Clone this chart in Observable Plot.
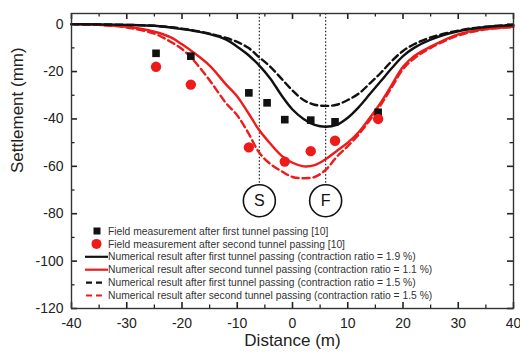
<!DOCTYPE html>
<html><head><meta charset="utf-8">
<script src="https://cdn.jsdelivr.net/npm/d3@7"></script>
<script src="https://cdn.jsdelivr.net/npm/@observablehq/plot@0.6"></script>
<style>body{margin:0;background:#fff} svg{display:block}</style>
</head><body><div id="chart"></div>
<script>
// Field measurements
const fieldFirstX = [-24.7, -18.4, -7.9, -4.6, -1.4, 3.3, 7.7, 15.5];
const fieldFirstY = [-12.3, -13.5, -29, -33.2, -40.3, -40.5, -41.2, -37.2];
const fieldSecondX = [-24.7, -18.4, -7.9, -1.4, 3.3, 7.7, 15.5];
const fieldSecondY = [-18, -25.5, -52, -58, -53.6, -49.2, -40];

// Numerical results
const curveX = [-40,-35,-30,-25,-22,-20,-18,-15,-12,-10,-8,-6,-4,-2,0,2,4,6,8,10,12,14,16,18,20,22,25,30,35,40];
const firstSolid  = [0,-0.1,-0.3,-0.7,-1.4,-2.1,-2.8,-4.2,-6.5,-9.5,-13,-17.5,-23,-30,-36,-40,-42.5,-43.3,-42.5,-39.5,-35,-29.5,-24,-18.5,-13.5,-10,-6.5,-3,-1.2,-0.4];
const secondSolid = [0,-0.3,-1.1,-3.2,-5.6,-8.5,-11.8,-17.5,-25.5,-30.5,-37.5,-44.8,-50.5,-55.5,-58.5,-60,-59.5,-57,-53.5,-50,-45.5,-39.5,-33,-25.5,-18,-13.5,-9.5,-4.3,-2,-1.1];
const firstDashed = [0,-0.1,-0.3,-0.7,-1.3,-1.9,-2.6,-4,-5.8,-7.5,-10,-14,-18,-23,-28,-32,-34,-34.5,-34,-32,-29.3,-25,-20.5,-15.5,-11.3,-8.5,-5.6,-2.7,-1.1,-0.3];
const secondDashed= [0,-0.3,-1.4,-4,-7.5,-10.5,-15,-23.7,-33.4,-38.5,-45.9,-54.3,-59,-62,-64.5,-65,-64.5,-61.5,-56,-51.5,-46.5,-40.5,-34,-26.5,-19,-14.5,-10,-4.8,-2.2,-1.2];

// Tunnel centre markers
const tunnelX = [-6, 6];
const tunnelLabels = ["S", "F"];
const tunnelMarkLevel = -74.5;

// Axes
const xTicks = [-40,-30,-20,-10,0,10,20,30,40];
const xMinor = [-35,-25,-15,-5,5,15,25,35];
const yTicks = [0,-20,-40,-60,-80,-100,-120];
const yMinor = [-10,-30,-50,-70,-90,-110];
const xTitle = "Distance (m)";
const yTitle = "Settlement (mm)";

const legendLabels = [
  "Field measurement after first tunnel passing [10]",
  "Field measurement after second tunnel passing [10]",
  "Numerical result after first tunnel passing (contraction ratio = 1.9 %)",
  "Numerical result after second tunnel passing (contraction ratio = 1.1 %)",
  "Numerical result after first tunnel passing (contraction ratio = 1.5 %)",
  "Numerical result after second tunnel passing (contraction ratio = 1.5 %)"
];

const BLACK = "#111", RED = "#ee1b1b", AX = "#222";
const W = 520, H = 359, mt = 13, mb = 51, ml = 71, mr = 7;
const XMIN = -40, XMAX = 40, YMIN = -120, YMAX = 4.5;
// data units per pixel, used to express tick lengths
const uX = (XMAX - XMIN) / (W - ml - mr), uY = (YMAX - YMIN) / (H - mt - mb);

const series = (ys) => curveX.map((x, i) => ({x, y: ys[i]}));
const pts = (xs, ys) => xs.map((x, i) => ({x, y: ys[i]}));
const tunnels = tunnelX.map((x, i) => ({x, label: tunnelLabels[i]}));

const xt = (vals, len, w) => [
  Plot.ruleX(vals, {x: d => d, y1: YMIN, y2: YMIN + len * uY, stroke: AX, strokeWidth: w}),
  Plot.ruleX(vals, {x: d => d, y1: YMAX - len * uY, y2: YMAX, stroke: AX, strokeWidth: w})
];
const yt = (vals, len, w) => [
  Plot.ruleY(vals, {y: d => d, x1: XMIN, x2: XMIN + len * uX, stroke: AX, strokeWidth: w}),
  Plot.ruleY(vals, {y: d => d, x1: XMAX - len * uX, x2: XMAX, stroke: AX, strokeWidth: w})
];

const svg = Plot.plot({
  width: W, height: H,
  marginTop: mt, marginBottom: mb, marginLeft: ml, marginRight: mr,
  style: {fontFamily: "'Liberation Sans', Arial, sans-serif", background: "#fff"},
  x: {domain: [XMIN, XMAX]},
  y: {domain: [YMIN, YMAX]},
  marks: [
    Plot.axisX({ticks: xTicks, tickSize: 0, tickPadding: 10, fontSize: 14, fill: "#222", label: null, tickFormat: d => String(d)}),
    Plot.axisY({ticks: yTicks, tickSize: 0, tickPadding: 8, fontSize: 14, fill: "#222", label: null, tickFormat: d => String(d)}),
    Plot.text([xTitle], {frameAnchor: "bottom", dy: 37, fontSize: 17, fill: "#222"}),
    Plot.text([yTitle], {frameAnchor: "left", dx: -54, dy: 12, rotate: -90, fontSize: 17, fill: "#222"}),
    // inward ticks on all four sides
    ...xt(xTicks, 6, 1.6), ...xt(xMinor, 3.5, 1.3),
    ...yt(yTicks, 6, 1.6), ...yt(yMinor, 3.5, 1.3),
    // tunnel centre lines
    Plot.ruleX(tunnels, {x: "x", y1: tunnelMarkLevel, y2: YMAX, stroke: "#222", strokeWidth: 1.2, strokeDasharray: "1.5,2"}),
    // curves
    Plot.line(series(secondDashed), {x: "x", y: "y", stroke: RED, strokeWidth: 2.4, strokeDasharray: "7,4", curve: "catmull-rom"}),
    Plot.line(series(secondSolid), {x: "x", y: "y", stroke: RED, strokeWidth: 2.4, curve: "catmull-rom"}),
    Plot.line(series(firstDashed), {x: "x", y: "y", stroke: BLACK, strokeWidth: 2.4, strokeDasharray: "7,4", curve: "catmull-rom"}),
    Plot.line(series(firstSolid), {x: "x", y: "y", stroke: BLACK, strokeWidth: 2.4, curve: "catmull-rom"}),
    // field data
    Plot.dot(pts(fieldFirstX, fieldFirstY), {x: "x", y: "y", symbol: "square", r: 4.3, fill: BLACK, stroke: "none"}),
    Plot.dot(pts(fieldSecondX, fieldSecondY), {x: "x", y: "y", r: 5.2, fill: RED, stroke: "none"}),
    // tunnel markers
    Plot.dot(tunnels, {x: "x", y: tunnelMarkLevel, r: 16, fill: "white", stroke: "#111", strokeWidth: 1.6}),
    Plot.text(tunnels, {x: "x", y: tunnelMarkLevel, text: "label", fontSize: 16, fill: "#111"}),
    Plot.frame({stroke: "#333", strokeWidth: 1.4})
  ]
});
document.getElementById("chart").appendChild(svg);

// Legend inside the plot area
const root = d3.select(svg);
const lg = root.append("g").attr("font-size", 10.3).attr("fill", "#333").attr("text-anchor", "start");
const rowY = i => 231 + i * 12.9;
legendLabels.forEach((t, i) => {
  lg.append("text").attr("x", 108).attr("y", rowY(i)).attr("dy", "0.35em").attr("text-anchor", "start").text(t);
});
lg.append("rect").attr("x", 93.5).attr("y", rowY(0) - 3.5).attr("width", 7).attr("height", 7).attr("fill", BLACK);
lg.append("circle").attr("cx", 96.5).attr("cy", rowY(1)).attr("r", 5).attr("fill", RED);
lg.append("line").attr("x1", 85).attr("x2", 108).attr("y1", rowY(2)).attr("y2", rowY(2)).attr("stroke", BLACK).attr("stroke-width", 2.2);
lg.append("line").attr("x1", 85).attr("x2", 108).attr("y1", rowY(3)).attr("y2", rowY(3)).attr("stroke", RED).attr("stroke-width", 2.2);
lg.append("line").attr("x1", 86).attr("x2", 103).attr("y1", rowY(4)).attr("y2", rowY(4)).attr("stroke", BLACK).attr("stroke-width", 2.2).attr("stroke-dasharray", "6,4");
lg.append("line").attr("x1", 86).attr("x2", 103).attr("y1", rowY(5)).attr("y2", rowY(5)).attr("stroke", RED).attr("stroke-width", 2.2).attr("stroke-dasharray", "6,4");
</script></body></html>
